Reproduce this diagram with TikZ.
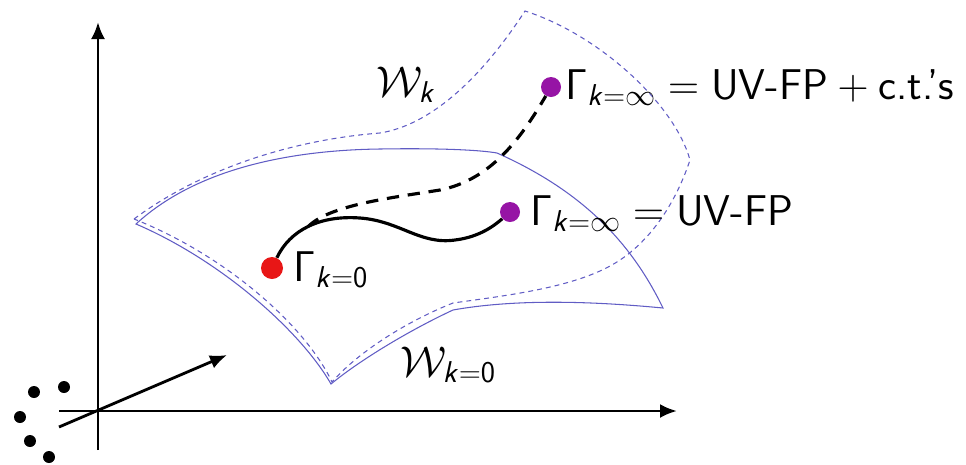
\RequirePackage{fix-cm}
\documentclass[tikz,border=0pt]{standalone}
\usepackage{amsmath}
\usetikzlibrary{arrows.meta,calc}
\DeclareMathAlphabet{\mathsfit}{OT1}{cmss}{m}{sl}
\definecolor{surf}{RGB}{96,92,196}
\definecolor{uvdot}{RGB}{150,20,165}
\definecolor{irdot}{RGB}{232,22,22}

\begin{document}
\begin{tikzpicture}[x=0.02cm,y=-0.02cm,>={Latex[length=3.4mm,width=2.8mm]},
  axis/.style={line width=1.6pt,->},
  sheet/.style={draw=surf,line width=0.6pt},
  flow/.style={line width=1.8pt},
  pt/.style={circle,inner sep=0pt,minimum size=#1},
  lbl/.style={inner sep=0pt,anchor=base west,font=\sffamily\fontsize{24.5}{28}\selectfont}]
  \useasboundingbox (0,0) rectangle (966,464);
  % axes
  \coordinate(o) at (98,411);
  \coordinate(yb) at (98,450); \coordinate(yt) at (98,22);
  \coordinate(xl) at (59,411); \coordinate(xr) at (677,411);
  \coordinate(zl) at (59,427); \coordinate(zr) at (227,355);
  \draw[axis](yb)--(yt); \draw[axis](xl)--(xr); \draw[axis](zl)--(zr);
  \foreach \p in {(34,392),(64,387),(20,417),(30,441),(49,457)}
    \node[pt=0.24cm,fill=black] at \p {};
  % truncation surfaces
  \draw[sheet] (136,224) .. controls (200,165) and (300,150) .. (380,149)
    .. controls (440,148) and (480,150) .. (497,153)
    .. controls (580,190) and (630,240) .. (663,308)
    .. controls (600,302) and (520,298) .. (453,310)
    .. controls (410,330) and (360,360) .. (331,384)
    .. controls (300,330) and (220,260) .. cycle;
  \draw[sheet,dash pattern=on 2.8pt off 2.3pt] (134,219) .. controls (200,170) and (290,140) .. (380,133)
    .. controls (430,125) and (480,80) .. (525,11)
    .. controls (600,35) and (675,105) .. (690,160)
    .. controls (675,205) and (650,240) .. (620,260)
    .. controls (580,287) and (510,295) .. (453,303)
    .. controls (410,320) and (360,350) .. (332,382)
    .. controls (305,325) and (225,255) .. cycle;
  % fixed points and flows
  \node[pt=0.44cm,fill=irdot](ir) at (272,268) {};
  \node[pt=0.40cm,fill=uvdot](uv) at (510,212) {};
  \node[pt=0.40cm,fill=uvdot](uvct) at (551,87) {};
  \draw[flow] (ir) .. controls (290,230) and (320,215) .. (360,218) coordinate[pos=0.5](br)
    .. controls (400,221) and (420,245) .. (455,240)
    .. controls (480,237) and (495,225) .. (uv);
  \draw[flow,dash pattern=on 7pt off 5pt] (br) .. controls (330,205) and (390,198) .. (440,190)
    .. controls (490,180) and (520,140) .. (uvct);
  % labels
  \node[lbl](wk) at (376,96) {$\mathcal{W}_{\mathsfit{k}}$};
  \node[lbl](w0) at (400,376) {$\mathcal{W}_{\mathsfit{k}=\mathsf{0}}$};
  \node[lbl](tct) at (565,99) {$\mathsf{\Gamma}_{\mathsfit{k}=\infty} = \text{UV-FP} + \text{c.t.'s}$};
  \node[lbl](tuv) at (530,225) {$\mathsf{\Gamma}_{\mathsfit{k}=\infty} = \text{UV-FP}$};
  \node[lbl](t0) at (293,281) {$\mathsf{\Gamma}_{\mathsfit{k}=\mathsf{0}}$};
\end{tikzpicture}
\end{document}
